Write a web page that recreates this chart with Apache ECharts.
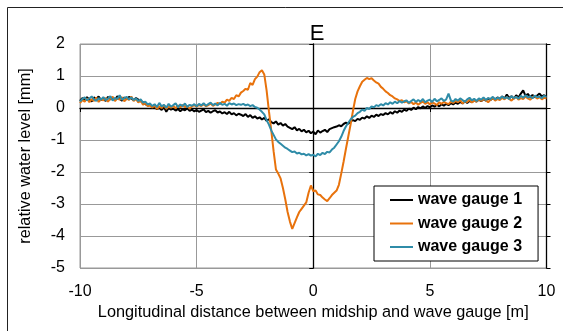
<!DOCTYPE html>
<html><head><meta charset="utf-8">
<script src="https://cdn.jsdelivr.net/npm/echarts@6/dist/echarts.min.js"></script>
<style>html,body{margin:0;padding:0;background:#fff}#c{width:563px;height:331px}</style>
</head><body><div id="c"></div>
<script>
// sampling grid: x from -10 to 10 m, step 0.1
const xStart = -10, xStep = 0.1;
const seriesNames = ['wave gauge 1', 'wave gauge 2', 'wave gauge 3'];
const xTicks = [-10, -5, 0, 5, 10];
const yTicks = [-5, -4, -3, -2, -1, 0, 1, 2];

const gauge1 = [
 0.22,0.31,0.25,0.34,0.27,0.20,0.33,0.28,0.36,0.24,
 0.30,0.22,0.35,0.27,0.32,0.25,0.37,0.29,0.23,0.33,
 0.27,0.35,0.30,0.24,0.31,0.26,0.21,0.18,0.12,0.08,
 0.10,0.02,0.05,-0.04,0.01,-0.06,0.03,-0.12,0.00,-0.05,
 -0.02,-0.08,-0.03,-0.10,-0.04,-0.07,-0.01,-0.09,-0.05,-0.11,
 -0.06,-0.12,-0.08,-0.04,-0.13,-0.09,-0.15,-0.10,-0.07,-0.14,
 -0.11,-0.17,-0.13,-0.19,-0.12,-0.20,-0.16,-0.23,-0.18,-0.21,
 -0.25,-0.19,-0.28,-0.22,-0.31,-0.26,-0.33,-0.29,-0.36,-0.31,
 -0.40,-0.35,-0.44,-0.48,-0.42,-0.52,-0.47,-0.55,-0.50,-0.58,
 -0.62,-0.66,-0.60,-0.70,-0.65,-0.73,-0.68,-0.76,-0.71,-0.79,
 -0.74,-0.82,-0.70,-0.77,-0.72,-0.68,-0.75,-0.66,-0.63,-0.60,
 -0.58,-0.54,-0.57,-0.50,-0.46,-0.49,-0.42,-0.38,-0.41,-0.34,
 -0.37,-0.30,-0.33,-0.26,-0.31,-0.24,-0.28,-0.21,-0.25,-0.19,
 -0.22,-0.16,-0.20,-0.13,-0.18,-0.10,-0.15,-0.08,-0.12,-0.05,
 -0.09,-0.02,-0.06,0.01,-0.04,0.03,-0.01,0.05,0.00,0.06,
 0.02,0.08,0.04,0.10,0.05,0.12,0.07,0.13,0.09,0.15,
 0.11,0.17,0.13,0.19,0.14,0.21,0.16,0.22,0.18,0.24,
 0.20,0.26,0.21,0.28,0.23,0.30,0.25,0.31,0.27,0.33,
 0.28,0.36,0.30,0.42,0.31,0.37,0.29,0.40,0.33,0.45,
 0.55,0.38,0.44,0.34,0.41,0.33,0.39,0.45,0.36,0.40,
 0.35
];
const gauge2 = [
 0.15,0.25,0.20,0.30,0.18,0.28,0.22,0.33,0.19,0.27,
 0.24,0.31,0.20,0.29,0.35,0.22,0.30,0.26,0.34,0.21,
 0.30,0.25,0.36,0.22,0.28,0.17,0.25,0.10,0.15,0.06,
 0.08,0.02,0.07,-0.03,0.05,0.00,0.09,-0.02,0.04,0.01,
 0.06,-0.01,0.08,0.02,0.10,0.03,0.07,-0.02,0.05,0.09,
 0.04,0.10,0.06,0.12,0.05,0.09,0.14,0.07,0.11,0.16,
 0.12,0.20,0.17,0.26,0.22,0.32,0.28,0.40,0.36,0.48,
 0.53,0.60,0.57,0.78,0.72,0.90,0.98,1.12,1.18,1.05,
 0.55,-0.10,-0.70,-1.35,-1.92,-2.05,-2.20,-2.50,-2.85,-3.25,
 -3.55,-3.78,-3.60,-3.42,-3.25,-3.15,-3.05,-2.95,-2.65,-2.42,
 -2.60,-2.58,-2.70,-2.72,-2.80,-2.86,-2.91,-2.82,-2.72,-2.65,
 -2.58,-2.40,-2.05,-1.68,-1.28,-0.90,-0.52,-0.10,0.28,0.52,
 0.68,0.82,0.88,0.94,0.90,0.93,0.86,0.80,0.76,0.66,
 0.60,0.52,0.47,0.40,0.36,0.30,0.27,0.22,0.24,0.18,
 0.21,0.14,0.19,0.12,0.17,0.10,0.16,0.20,0.13,0.18,
 0.11,0.17,0.14,0.09,0.18,0.13,0.19,0.15,0.12,0.20,
 0.16,0.22,0.18,0.25,0.14,0.21,0.19,0.26,0.17,0.23,
 0.20,0.27,0.22,0.29,0.24,0.18,0.26,0.31,0.23,0.28,
 0.25,0.32,0.27,0.34,0.28,0.23,0.30,0.35,0.26,0.31,
 0.28,0.36,0.30,0.26,0.33,0.38,0.29,0.34,0.27,0.32,
 0.30
];
const gauge3 = [
 0.20,0.28,0.33,0.24,0.30,0.36,0.27,0.22,0.31,0.26,
 0.34,0.25,0.29,0.37,0.23,0.32,0.28,0.40,0.26,0.31,
 0.35,0.27,0.33,0.25,0.30,0.22,0.27,0.17,0.20,0.11,
 0.14,0.06,0.12,0.03,0.16,0.05,0.10,0.01,0.13,0.04,
 0.09,0.15,0.02,0.11,0.06,0.14,0.03,0.10,0.07,0.12,
 0.05,0.13,0.08,0.15,0.07,0.12,0.17,0.09,0.14,0.08,
 0.16,0.10,0.13,0.07,0.15,0.11,0.14,0.09,0.12,0.10,
 0.13,0.08,0.11,0.06,0.09,0.03,0.01,-0.05,-0.12,-0.20,
 -0.38,-0.52,-0.70,-0.84,-0.98,-1.06,-1.12,-1.18,-1.24,-1.28,
 -1.33,-1.38,-1.36,-1.42,-1.40,-1.45,-1.43,-1.48,-1.44,-1.49,
 -1.46,-1.51,-1.43,-1.47,-1.40,-1.44,-1.37,-1.39,-1.30,-1.24,
 -1.14,-1.04,-0.90,-0.72,-0.58,-0.46,-0.36,-0.28,-0.24,-0.16,
 -0.12,-0.05,-0.09,0.00,-0.03,0.05,0.02,0.09,0.06,0.12,
 0.08,0.15,0.11,0.18,0.13,0.20,0.15,0.22,0.17,0.21,
 0.24,0.16,0.22,0.27,0.19,0.25,0.20,0.28,0.18,0.23,
 0.26,0.19,0.29,0.21,0.25,0.30,0.22,0.27,0.45,0.24,
 0.20,0.28,0.23,0.30,0.25,0.19,0.27,0.32,0.24,0.29,
 0.22,0.30,0.26,0.33,0.25,0.31,0.28,0.35,0.27,0.32,
 0.29,0.36,0.30,0.34,0.28,0.37,0.31,0.35,0.29,0.38,
 0.32,0.40,0.33,0.37,0.30,0.39,0.34,0.36,0.31,0.38,
 0.35
];

const colors = ['#000000', '#E8720C', '#2F8CA8'];
const FONT = 'Liberation Sans';
function pairs(vals){ return vals.map((v,i)=>[+(xStart + i*xStep).toFixed(2), v]); }
const allSeries = [gauge1, gauge2, gauge3];

const chart = echarts.init(document.getElementById('c'), null, {renderer:'canvas'});
chart.setOption({
  animation: false,
  backgroundColor: '#fff',
  textStyle: {fontFamily: FONT},
  title: {text: 'E', left: 312, top: 18, textAlign: 'center',
    textStyle: {fontFamily: FONT, fontSize: 22, fontWeight: 'normal', color: '#000'}},
  graphic: [{type:'rect', shape:{x:7.5, y:7.5, width:600, height:400}, style:{fill:'none', stroke:'#222', lineWidth:1}, silent:true}],
  grid: {left: 80, right: 16.5, top: 44, bottom: 63, show: true, borderColor: '#999', borderWidth: 1, containLabel: false},
  legend: {
    orient: 'vertical', left: 374, top: 186,
    padding: [6, 16, 6, 16], itemGap: 7.5, itemWidth: 23, itemHeight: 2, icon: 'rect',
    backgroundColor: '#fff', borderColor: '#000', borderWidth: 1,
    textStyle: {fontFamily: FONT, fontSize: 16, lineHeight: 16, fontWeight: 'bold', color: '#000'},
    data: seriesNames.map((n, k) => ({name: n, itemStyle: {color: colors[k]}}))
  },
  xAxis: [
    {type:'value', min: xTicks[0], max: xTicks[xTicks.length-1], interval: 5,
     name: 'Longitudinal distance between midship and wave gauge [m]', nameLocation: 'middle', nameGap: 36,
     nameTextStyle: {fontFamily: FONT, fontSize: 16.3, color: '#000'},
     axisLine:{show:false}, axisTick:{show:false},
     axisLabel:{fontFamily: FONT, fontSize: 16, color:'#000', margin: 16},
     splitLine:{show:true, lineStyle:{color:'#999', width:1}}},
    {type:'value', min: xTicks[0], max: xTicks[xTicks.length-1], interval: 5, position:'bottom',
     axisLine:{show:true, onZero:true, lineStyle:{color:'#000', width:1.3}},
     axisTick:{show:true, inside:false, length:4, lineStyle:{color:'#000'}},
     axisLabel:{show:false}, splitLine:{show:false}}
  ],
  yAxis: [
    {type:'value', min: yTicks[0], max: yTicks[yTicks.length-1], interval: 1,
     name: 'relative water level [mm]', nameLocation:'middle', nameGap: 46, nameRotate: 90,
     nameTextStyle: {fontFamily: FONT, fontSize: 16.3, color:'#000'},
     axisLine:{show:false}, axisTick:{show:false},
     axisLabel:{fontFamily: FONT, fontSize: 16, color:'#000', margin: 15},
     splitLine:{show:true, lineStyle:{color:'#999', width:1}}},
    {type:'value', min: yTicks[0], max: yTicks[yTicks.length-1], interval: 1, position:'left',
     axisLine:{show:true, onZero:true, lineStyle:{color:'#000', width:1.3}},
     axisTick:{show:true, inside:false, length:4, lineStyle:{color:'#000'}},
     axisLabel:{show:false}, splitLine:{show:false}},
    {type:'value', min: yTicks[0], max: yTicks[yTicks.length-1], interval: 1, position:'right',
     axisLine:{show:true, onZero:true, lineStyle:{color:'#000', width:1.3}},
     axisTick:{show:true, inside:false, length:4, lineStyle:{color:'#000'}},
     axisLabel:{show:false}, splitLine:{show:false}}
  ],
  series: allSeries.map((vals, k) => ({
    name: seriesNames[k], type:'line', xAxisIndex:0, yAxisIndex:0,
    data: pairs(vals), showSymbol:false, symbol:'none',
    lineStyle:{color: colors[k], width: 2}, itemStyle:{color: colors[k]},
    z: 3 + k
  }))
});
</script></body></html>
